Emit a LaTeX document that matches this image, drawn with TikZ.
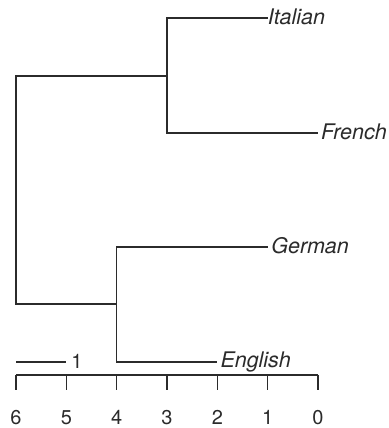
\documentclass[tikz,border=0pt]{standalone}
\usepackage{fontspec}
\setmainfont{TeX Gyre Heros}
\definecolor{ink}{HTML}{2B2B2B}
\begin{document}
\begin{tikzpicture}[x=1bp,y=-1bp,
  branch/.style={draw=ink,line width=1.4bp},
  lab/.style={anchor=base west,inner sep=0pt,text=ink,font=\fontsize{21.5bp}{25bp}\selectfont\itshape},
  num/.style={anchor=base,inner sep=0pt,text=ink,font=\fontsize{20bp}{24bp}\selectfont}]
\useasboundingbox (0,0) rectangle (389,428);
% junctions and leaf ends
\coordinate (root) at (16,76);
\coordinate (n3) at (167,76);
\coordinate (n4) at (116.7,304);
\coordinate (itend) at (267.7,18);
\coordinate (frend) at (318,133);
\coordinate (geend) at (267.7,247);
\coordinate (enend) at (217.3,362);
% labels
\node[lab] (italian) at ([xshift=0bp,yshift=-6bp]itend) {Italian};
\node[lab] (french) at ([xshift=3bp,yshift=-6bp]frend) {French};
\node[lab] (german) at ([xshift=3.5bp,yshift=-6bp]geend) {German};
\node[lab] (english) at ([xshift=3bp,yshift=-5bp]enend) {English};
% tree
\draw[branch] (itend) -- (n3 |- itend) -- (n3 |- frend) -- (frend);
\draw[branch] (geend) -- (n4 |- geend) -- (n4 |- enend) -- (enend);
\draw[branch] (n3) -- (root) -- (root |- n4) -- (n4);
% scale bar
\coordinate (sb0) at (16,362);
\coordinate (sb1) at (66.3,362);
\draw[branch] (sb0) -- (sb1);
\node[num] (sblab) at (77,368.5) {1};
% axis
\coordinate (ax0) at (16,375);
\coordinate (ax6) at (318,375);
\draw[branch] (ax0) -- (ax6);
\foreach \i/\v in {0/6,1/5,2/4,3/3,4/2,5/1,6/0}{
  \coordinate (t\i) at (16+\i*50.333,375);
  \draw[branch] (t\i) -- ++(0,15);
  \node[num] (tl\i) at (16+\i*50.333,424.5) {\v};
}
\end{tikzpicture}
\end{document}
